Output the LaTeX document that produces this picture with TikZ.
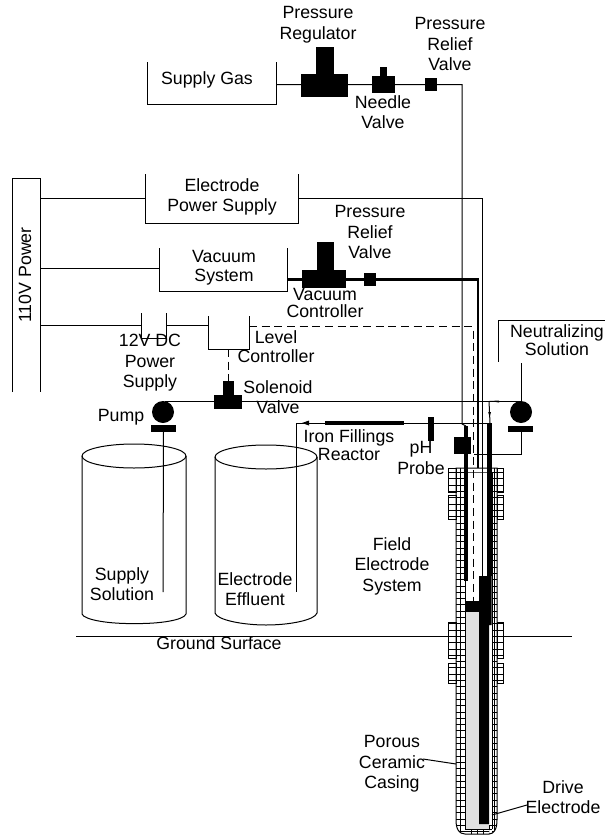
\documentclass[tikz,border=0pt]{standalone}
\usepackage{fontspec}
\setmainfont{Liberation Sans}
\tikzset{
  x=0.75pt,y=-0.75pt,
  wire/.style={draw=black,line width=0.75pt},
  gridline/.style={draw=black,line width=0.6pt},
  fatwire/.style={draw=black,line width=1.9pt},
  dashwire/.style={draw=black,line width=0.75pt,dash pattern=on 6pt off 3.5pt},
  blk/.style 2 args={fill=black,draw=none,inner sep=0pt,outer sep=0pt,minimum width=#1*0.75pt,minimum height=#2*0.75pt},
  boxarea/.style 2 args={draw=none,inner sep=0pt,outer sep=0pt,minimum width=#1*0.75pt,minimum height=#2*0.75pt},
  lab/.style={inner sep=0pt,outer sep=0pt,align=center,font=\fontsize{13.3}{15.4}\selectfont},
  labt/.style={inner sep=0pt,outer sep=0pt,align=center,font=\fontsize{13.3}{14.2}\selectfont},
  labs/.style={inner sep=0pt,outer sep=0pt,align=center,font=\fontsize{13.3}{13}\selectfont},
}
\begin{document}
\begin{tikzpicture}
\useasboundingbox (0,0) rectangle (605,835);
% ---- equipment (open-topped boxes)
\node[boxarea={129}{42}] (gas) at (211.5,83) {};
\node[boxarea={153}{49}] (eps) at (221.5,198.5) {};
\node[boxarea={128}{43}] (vac) at (223,269.5) {};
\node[boxarea={25}{25}] (dc) at (153.5,325.5) {};
\node[boxarea={41}{33}] (lev) at (228.5,332.5) {};
\node[boxarea={28}{214}] (pow) at (26,285) {};
\foreach \b in {gas,eps,vac,dc,lev}{
  \draw[wire] (\b.north west) -- (\b.south west) -- (\b.south east) -- (\b.north east);
}
\draw[wire] (pow.south west) -- (pow.north west) -- (pow.north east) -- (pow.south east);
% ---- valves and blocks
\node[blk={47}{23}] (pregb) at (324.5,85.5) {};
\node[blk={18}{27}] (pregs) at (325,60.5) {};
\node[blk={23}{17}] (needb) at (383.5,84.5) {};
\node[blk={7}{9}] (needs) at (383.5,71.5) {};
\node[blk={12}{13}] (relief) at (431,84.5) {};
\node[blk={44}{18}] (vcb) at (324,279) {};
\node[blk={17}{28}] (vcs) at (325.5,256) {};
\node[blk={12}{13}] (vrelief) at (370,279.5) {};
\node[blk={28}{14}] (solb) at (228,402) {};
\node[blk={11}{14}] (sols) at (228.5,388) {};
\node[blk={79}{4.5}] (iron) at (364.5,423) {};
\node[blk={6}{24}] (ph) at (431,429) {};
\node[blk={17}{17}] (phb) at (462.5,445.5) {};
\node[circle,fill=black,draw=none,minimum size=22*0.75pt,inner sep=0pt,outer sep=0pt] (pumpa) at (163,412) {};
\node[circle,fill=black,draw=none,minimum size=22*0.75pt,inner sep=0pt,outer sep=0pt] (pumpb) at (521,412) {};
\node[blk={25}{6.5}] (plata) at (163.5,428.5) {};
\node[blk={25}{6}] (platb) at (520.5,429) {};
% ---- named ends
\coordinate (gasc) at (462,84.5);
\coordinate (gasend) at (462,424);
\coordinate (gastip) at (466,426);
\coordinate (epsc) at (482,198.5);
\coordinate (epsend) at (482,576);
\coordinate (vacc) at (478,279.5);
\coordinate (vacend) at (478,468);
\coordinate (vacl) at (159,268);
\coordinate (levc) at (473,326.5);
\coordinate (levend) at (473,601);
\coordinate (supend) at (163,592);
\coordinate (effc) at (296,423);
\coordinate (effend) at (296,592);
\coordinate (probee) at (490,423);
\coordinate (neuta) at (498,320);
\coordinate (neutb) at (498,362);
\coordinate (neutc) at (605,320);
\coordinate (neutd) at (521,363);
\coordinate (rtop) at (521,401);
\coordinate (ltop) at (165,401);
\coordinate (retc) at (521,454);
\coordinate (rete) at (474,454);
\coordinate (dropt) at (489,401);
% ---- connectors
\draw[wire] (gas.east |- gasc) -- (gasc) -- (gasend) -- (gastip);
\draw[wire] (pow.east |- eps.west) -- (eps.west);
\draw[wire] (eps.east) -- (epsc) -- (epsend);
\draw[wire] (pow.east |- vacl) -- (vacl);
\draw[fatwire] (vac.east |- vacc) -- (vacc) -- (vacend);
\draw[wire] (pow.east |- dc.center) -- (dc.west);
\draw[wire] (dc.east) -- (lev.west |- dc.east);
\draw[dashwire] (lev.east |- levc) -- (levc) -- (levend);
\draw[dashwire] (lev.south) -- (sols.north);
\draw[wire] (ltop) -- (rtop);
\draw[wire] (neuta) -- (neutb);
\draw[wire] (neuta) -- (neutc);
\draw[wire] (neutd) -- (rtop);
\draw[wire] (platb.south -| retc) -- (retc) -- (rete);
\draw[wire] (plata.south) -- (supend);
\draw[wire] (probee) -- (effc) -- (effend);
\draw[wire] (dropt) -- (probee);
\fill (302,423) -- (309,420.5) -- (309,425.5) -- cycle;
\fill (489.6,417) -- (488.2,412) -- (491,412) -- cycle;
\fill (490,401) -- (499,402.5) -- (499,400.5) -- cycle;
% ---- tanks
\draw[wire] (134,456) ellipse [x radius=52,y radius=12];
\draw[wire] (82,456) -- (82,614) .. controls (84,620) and (110,624) .. (134,623.5) .. controls (160,624) and (184,620) .. (186,614) -- (186,456);
\draw[wire] (266,457) ellipse [x radius=51,y radius=12];
\draw[wire] (215,457) -- (215,613) .. controls (217,620) and (243,625) .. (266,625) .. controls (290,625) and (315,620) .. (317,613) -- (317,457);
% ---- ground
\coordinate (gl) at (76,636);
\coordinate (gr) at (572,636);
\draw[wire] (gl) -- (448,636);
\draw[wire] (503,636) -- (gr);
% ---- electrode casing
\fill[black!12] (465,612) rectangle (489,829);
\begin{scope}
\clip (456,468) rectangle (465,820)
      (456,468) rectangle (497,472.5)
      (492,468) rectangle (497,820)
      (448,468) rectangle (456,492)
      (448,495) rectangle (456,519)
      (497,468) rectangle (503,492)
      (497,495) rectangle (503,519)
      (448,622) rectangle (456,658)
      (448,663) rectangle (456,683)
      (497,622) rectangle (503,658)
      (497,663) rectangle (503,683)
      (465,829) rectangle (492,834)
      (456,820) .. controls (456,829) and (459,834) .. (465,834) -- (465,820) -- cycle
      (497,820) .. controls (497,829) and (494,834) .. (489,834) -- (489,820) -- cycle;
  \foreach \gy in {472.5,478.8,...,836}{\draw[gridline] (440,\gy) -- (510,\gy);}
  \draw[gridline] (460,460) -- (460,835) (494.5,460) -- (494.5,835);
  \foreach \gx in {471,477,483,489}{\draw[gridline] (\gx,826) -- (\gx,836);}
\end{scope}
\draw[wire] (465,472.5) -- (465,829) -- (492,829);
\draw[wire] (492,472.5) -- (492,829);
\draw[wire] (456,468) -- (456,820) .. controls (456,829) and (459,834) .. (465,834) -- (489,834) .. controls (494,834) and (497,829) .. (497,820) -- (497,468) -- cycle;
\draw[wire] (448,468) rectangle (456,492) (448,495) rectangle (456,519) (448,622) rectangle (456,658) (448,663) rectangle (456,683);
\draw[wire] (497,468) rectangle (503,492) (497,495) rectangle (503,519) (497,622) rectangle (503,658) (497,663) rectangle (503,683);
% ---- electrodes
\fill[black] (464,426) rectangle (468,581);
\fill[black] (487,423) rectangle (491.5,576);
\fill[black] (479,576) -- (491.5,576) -- (491.5,625) -- (489,625) -- (489,824) -- (479,824) -- cycle;
\fill[black] (465,601) rectangle (479,612);
\node[blk={17}{17}] at (phb) {};
% ---- leaders
\coordinate (cerL) at (423,759);
\coordinate (cerR) at (456,764);
\coordinate (drvL) at (492,815);
\coordinate (drvR) at (527,805);
\draw[wire] (cerL) -- (cerR);
\draw[wire] (drvL) -- (drvR);
% ---- labels
\node[lab] (t1) at (318,25) {Pressure\\Regulator};
\node[lab] (t2) at (207,80) {Supply Gas};
\node[lab] (t3) at (450,44) {Pressure\\Relief\\Valve};
\node[lab] (t4) at (383,112) {Needle\\Valve};
\node[lab] (t5) at (222,197) {Electrode\\Power Supply};
\node[lab] (t6) at (370,232) {Pressure\\Relief\\Valve};
\node[labt] (t7) at (224,268) {Vacuum\\System};
\node[labs] (t8) at (325,303) {Vacuum\\Controller};
\node[lab] (t9) at (150,363) {12V DC\\Power\\Supply};
\node[labt] (t10) at (276,347) {Level\\Controller};
\node[lab] (t11) at (278,397) {Solenoid\\Valve};
\node[lab] (t12) at (121,417) {Pump};
\node[labs] (t13) at (349,445) {Iron Fillings\\Reactor};
\node[lab] (t14) at (421,458) {pH\\Probe};
\node[lab] (t15) at (392,566) {Field\\Electrode\\System};
\node[lab] (t16) at (122,584) {Supply\\Solution};
\node[lab] (t17) at (255,589) {Electrode\\Effluent};
\node[lab] (t18) at (219,643) {Ground Surface};
\node[labs] (t19) at (557,340) {Neutralizing\\Solution};
\node[lab] (t20) at (392,764) {Porous\\Ceramic\\Casing};
\node[lab] (t21) at (563,797) {Drive\\Electrode};
\node[lab,rotate=90] (t22) at (25,275) {110V Power};
\end{tikzpicture}
\end{document}
